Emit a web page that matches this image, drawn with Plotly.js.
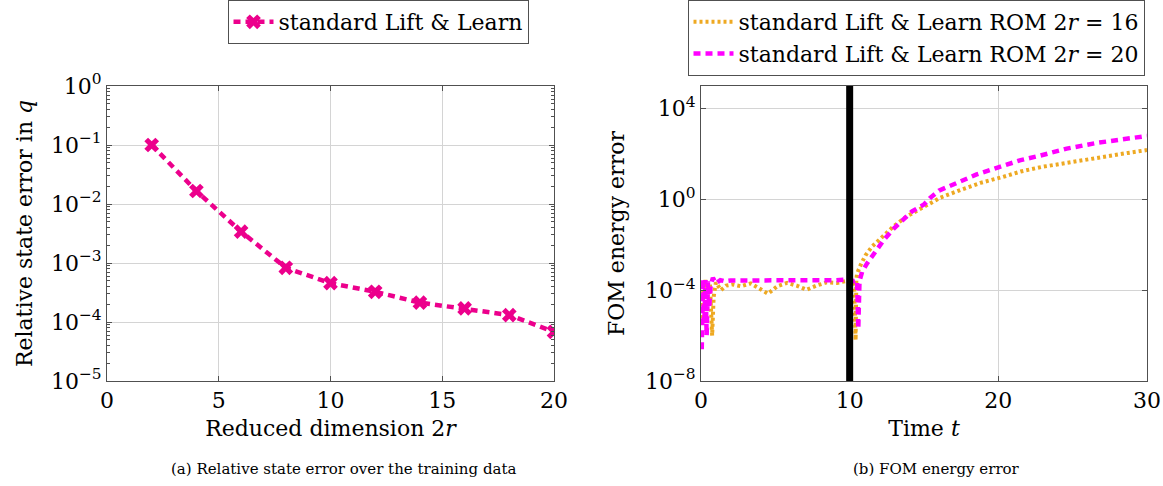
<!DOCTYPE html>
<html>
<head>
<meta charset="utf-8">
<script src="https://cdn.plot.ly/plotly-3.0.1.min.js"></script>
<style>
  html, body { margin: 0; padding: 0; background: #ffffff; }
  #chart { width: 1163px; height: 486px; }
</style>
</head>
<body>
<div id="chart"></div>
<script>
// ---------- data: (a) relative state error over training data ----------
const reducedDims = [2, 4, 6, 8, 10, 12, 14, 16, 18, 20];
const stateError = [0.1, 0.0166, 0.0034, 0.00083, 0.000455, 0.000325, 0.000213, 0.00017, 0.000131, 0.000068];

// ---------- data: (b) FOM energy error over time ----------
const time16 = [0.05, 0.15, 0.3, 0.45, 0.6, 0.75, 0.85, 1.0, 1.34, 1.7, 2.12, 2.68, 3.35, 3.95, 4.51, 5.13, 5.8, 6.43, 7.1, 7.77, 8.44, 9.15, 9.71, 10.3, 10.4, 10.45, 10.5, 10.74, 11.07, 11.5, 12.2, 12.95, 13.85, 14.85, 16.1, 17.5, 18.8, 20.3, 21.5, 22.9, 24.5, 25.9, 27.3, 28.7, 30];
const energyError16 = [3.2e-6, 1.0e-4, 2.8e-4, 6.3e-5, 2.0e-4, 1.0e-6, 5.0e-5, 2.2e-4, 1.0e-4, 1.6e-4, 1.8e-4, 1.5e-4, 2.0e-4, 1.2e-4, 7.0e-5, 1.5e-4, 2.1e-4, 1.6e-4, 1.05e-4, 1.6e-4, 2.2e-4, 2.1e-4, 2.5e-4, 2.1e-4, 6.3e-7, 3.2e-4, 5.5e-4, 1.3e-3, 3.5e-3, 8.3e-3, 0.023, 0.065, 0.18, 0.42, 1.2, 2.7, 5.4, 9.8, 17, 27, 41, 58, 79, 112, 150];

const time20 = [0.05, 0.13, 0.22, 0.3, 0.38, 0.47, 0.55, 0.65, 0.8, 1.0, 1.3, 1.6, 2, 3, 4, 5, 6, 7, 8, 9, 9.8, 10.3, 10.5, 10.58, 10.66, 10.84, 11.18, 11.7, 12.3, 13.0, 13.6, 14.2, 15.0, 15.4, 16.0, 17.2, 18.5, 20.0, 21.5, 22.8, 24.6, 26.6, 28.8, 30];
const energyError20 = [2.5e-7, 3.2e-4, 3.2e-6, 2.8e-4, 1.0e-6, 2.5e-4, 1.6e-5, 1.6e-4, 3.5e-4, 2.0e-4, 2.8e-4, 2.5e-4, 2.7e-4, 2.7e-4, 2.75e-4, 2.6e-4, 2.7e-4, 2.75e-4, 2.7e-4, 2.75e-4, 3.0e-4, 2.5e-4, 2.8e-4, 2.0e-6, 2.5e-4, 6.5e-4, 1.55e-3, 5.0e-3, 0.0166, 0.055, 0.13, 0.3, 0.6, 1.15, 2.45, 5.6, 12.3, 26, 54, 85, 174, 309, 525, 630];

const trainingEndTime = 10;

// ---------- tick labels ----------
const leftTickVals = [1e-5, 1e-4, 1e-3, 1e-2, 1e-1, 1];
const leftTickText = ['10<sup>−5</sup>', '10<sup>−4</sup>', '10<sup>−3</sup>', '10<sup>−2</sup>', '10<sup>−1</sup>', '10<sup>0</sup>'];
const rightTickVals = [1e-8, 1e-4, 1, 1e4];
const rightTickText = ['10<sup>−8</sup>', '10<sup>−4</sup>', '10<sup>0</sup>', '10<sup>4</sup>'];

const PINK = '#EC008C';
const GOLD = '#EEA922';
const MAGENTA = '#FF00FF';
const FONT = 'DejaVu Serif';
const GRID = '#d4d4d4';
const AXLINE = '#505050';

const traces = [
  {
    x: reducedDims, y: stateError, xaxis: 'x', yaxis: 'y',
    type: 'scatter', mode: 'lines+markers',
    name: 'standard Lift &amp; Learn',
    line: { color: PINK, width: 4.5, dash: '7px,5px' },
    marker: { symbol: 'x', size: 13, color: PINK, line: { width: 0 } },
    legend: 'legend'
  },
  {
    x: time16, y: energyError16, xaxis: 'x2', yaxis: 'y2',
    type: 'scatter', mode: 'lines',
    name: 'standard Lift &amp; Learn ROM 2<i>r</i> = 16',
    line: { color: GOLD, width: 4, dash: '3px,3px' },
    legend: 'legend2'
  },
  {
    x: time20, y: energyError20, xaxis: 'x2', yaxis: 'y2',
    type: 'scatter', mode: 'lines',
    name: 'standard Lift &amp; Learn ROM 2<i>r</i> = 20',
    line: { color: MAGENTA, width: 4.5, dash: '7px,5px' },
    legend: 'legend2'
  }
];

const commonAxis = {
  showline: true, linecolor: AXLINE, linewidth: 1, mirror: 'ticks',
  ticks: 'inside', ticklen: 5, tickcolor: AXLINE,
  showgrid: true, gridcolor: GRID, gridwidth: 1, zeroline: false,
  tickfont: { family: FONT, size: 22, color: '#000' }
};

const layout = {
  width: 1163, height: 486,
  margin: { l: 0, r: 0, t: 0, b: 0 },
  paper_bgcolor: '#ffffff', plot_bgcolor: '#ffffff',
  font: { family: FONT, color: '#000' },
  showlegend: true,
  xaxis: Object.assign({}, commonAxis, {
    domain: [107 / 1163, 554 / 1163], anchor: 'y',
    range: [0, 20], tickvals: [0, 5, 10, 15, 20],
    title: { text: 'Reduced dimension 2<i>r</i>', font: { family: FONT, size: 22 }, standoff: 8 }
  }),
  yaxis: Object.assign({}, commonAxis, {
    domain: [(486 - 381) / 486, (486 - 86) / 486], anchor: 'x',
    type: 'log', range: [-5, 0],
    tickvals: leftTickVals, ticktext: leftTickText,
    minor: { dtick: 'D1', ticks: 'inside', ticklen: 3, tickcolor: AXLINE, showgrid: false },
    title: { text: 'Relative state error in <i>q</i>', font: { family: FONT, size: 22 }, standoff: 12 }
  }),
  xaxis2: Object.assign({}, commonAxis, {
    domain: [701 / 1163, 1147 / 1163], anchor: 'y2',
    range: [0, 30], tickvals: [0, 10, 20, 30],
    title: { text: 'Time <i>t</i>', font: { family: FONT, size: 22 }, standoff: 8 }
  }),
  yaxis2: Object.assign({}, commonAxis, {
    domain: [(486 - 381) / 486, (486 - 86) / 486], anchor: 'x2',
    type: 'log', range: [-8, 5],
    tickvals: rightTickVals, ticktext: rightTickText,
    title: { text: 'FOM energy error', font: { family: FONT, size: 22 }, standoff: 14 }
  }),
  shapes: [
    {
      type: 'line', xref: 'x2', yref: 'y2 domain',
      x0: trainingEndTime, x1: trainingEndTime, y0: 0, y1: 1,
      line: { color: '#000000', width: 7 }, layer: 'above'
    }
  ],
  legend: {
    x: 378 / 1163, xanchor: 'center', y: 1, yanchor: 'top',
    bordercolor: AXLINE, borderwidth: 1, bgcolor: '#ffffff',
    font: { family: FONT, size: 22, color: '#000' },
    itemwidth: 40, tracegroupgap: 0
  },
  legend2: {
    x: 916 / 1163, xanchor: 'center', y: 1, yanchor: 'top',
    bordercolor: AXLINE, borderwidth: 1, bgcolor: '#ffffff',
    font: { family: FONT, size: 22, color: '#000' },
    itemwidth: 40, tracegroupgap: 0
  },
  annotations: [
    {
      text: '(a) Relative state error over the training data',
      xref: 'paper', yref: 'paper', x: 344 / 1163, y: (486 - 469) / 486,
      xanchor: 'center', yanchor: 'middle', showarrow: false,
      font: { family: FONT, size: 15, color: '#000' }
    },
    {
      text: '(b) FOM energy error',
      xref: 'paper', yref: 'paper', x: 936 / 1163, y: (486 - 469) / 486,
      xanchor: 'center', yanchor: 'middle', showarrow: false,
      font: { family: FONT, size: 15, color: '#000' }
    }
  ]
};

Plotly.newPlot('chart', traces, layout, { displayModeBar: false, staticPlot: true });
</script>
</body>
</html>
